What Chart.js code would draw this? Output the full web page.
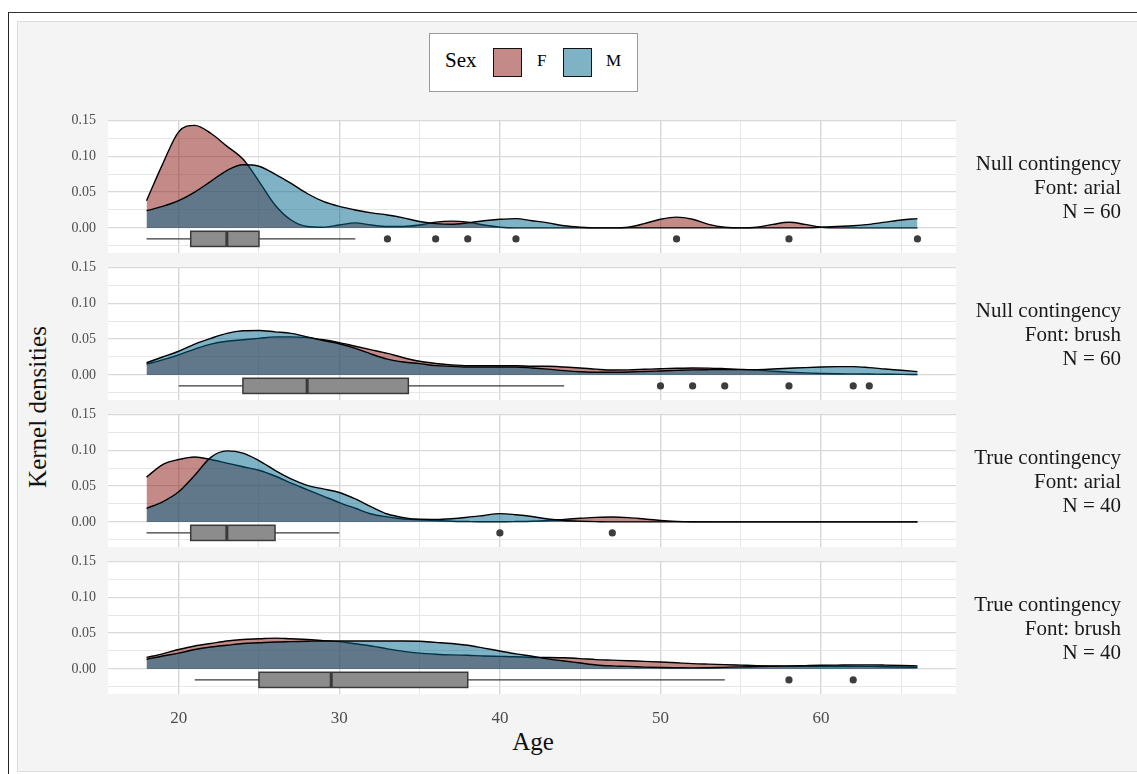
<!DOCTYPE html>
<html>
<head>
<meta charset="utf-8">
<script src="https://cdn.jsdelivr.net/npm/chart.js@4.4.0/dist/chart.umd.min.js"></script>
<style>
  body { margin: 0; background: #fff; width: 1137px; height: 774px; overflow: hidden; font-family: "Liberation Serif", "DejaVu Serif", serif; }
  #frame { position: absolute; left: 8px; top: 12px; width: 1200px; height: 800px; border-left: 1.5px solid #222; border-top: 1.5px solid #333; }
  #bg { position: absolute; left: 17px; top: 21px; width: 1200px; height: 749px; background: #f4f4f4; border: 1px solid #dcdcdc; }
  .panel { position: absolute; left: 0; }
  .strip { position: absolute; left: 860px; width: 261px; text-align: right; font-size: 21px; line-height: 24px; color: #1a1a1a; }
  #legend { position: absolute; left: 429px; top: 33px; width: 207px; height: 57px; background: #fff; border: 1px solid #9a9a9a; }
  #legend span { position: absolute; }
  .sw { width: 27px; height: 27px; border: 1.5px solid #111; top: 14px; }
  #ytitle { position: absolute; left: 38px; top: 407px; transform: translate(-50%, -50%) rotate(-90deg); font-size: 25px; white-space: nowrap; color: #111; }
  #xtitle { position: absolute; left: 533px; top: 742px; transform: translate(-50%, -50%); font-size: 25px; color: #111; }
</style>
</head>
<body>
<div id="frame"></div>
<div id="bg"></div>
<div id="legend">
  <span style="left:15px;top:14px;font-size:21px;">Sex</span>
  <span class="sw" style="left:63px;background:rgba(135,21,17,0.5)"></span>
  <span style="left:107px;top:17px;font-size:17px;">F</span>
  <span class="sw" style="left:133px;background:rgba(0,101,139,0.5)"></span>
  <span style="left:176px;top:17px;font-size:17px;">M</span>
</div>
<div id="ytitle">Kernel densities</div>
<div id="xtitle">Age</div>
<div id="charts"></div>

<script>
const ages = [18,19,20,21,22,23,24,25,26,27,28,29,30,31,32,33,34,35,36,37,38,39,40,41,42,
  43,44,45,46,47,48,49,50,51,52,53,54,55,56,57,58,59,60,61,62,63,64,65,66];

// density estimates, F and M, one pair per panel
const nullArialF = [0.038,0.089,0.134,0.143,0.132,0.114,0.096,0.065,0.032,0.011,
  0.002,0.001,0.004,0.007,0.004,0.002,0.002,0.004,0.008,0.0095,
  0.008,0.004,0.001,0,0,0,0,0,0,0,
  0.001,0.006,0.012,0.015,0.012,0.005,0.001,0,0.001,0.005,
  0.0078,0.005,0.001,0,0,0,0,0,0];
const nullArialM = [0.024,0.030,0.038,0.050,0.065,0.080,0.088,0.086,0.075,0.062,
  0.048,0.037,0.030,0.025,0.021,0.018,0.014,0.009,0.006,0.005,
  0.007,0.010,0.012,0.013,0.010,0.007,0.003,0.001,0,0,
  0,0,0,0,0,0,0,0,0,0,
  0,0,0.001,0.002,0.003,0.005,0.008,0.011,0.013];

const nullBrushF = [0.015,0.021,0.028,0.036,0.043,0.047,0.049,0.051,0.053,0.053,
  0.052,0.049,0.045,0.040,0.035,0.030,0.024,0.019,0.016,0.014,
  0.013,0.013,0.013,0.013,0.012,0.012,0.011,0.0097,0.008,0.0068,
  0.007,0.0078,0.0086,0.0093,0.0097,0.0095,0.0087,0.0077,0.0066,0.0052,
  0.0038,0.0028,0.002,0.0016,0.0014,0.0012,0.001,0.0007,0.0005];
const nullBrushM = [0.017,0.025,0.033,0.043,0.051,0.058,0.0615,0.062,0.060,0.058,
  0.053,0.048,0.0435,0.037,0.029,0.022,0.018,0.0157,0.013,0.012,
  0.011,0.011,0.011,0.011,0.0097,0.008,0.006,0.0045,0.0037,0.0037,
  0.004,0.0047,0.0055,0.0063,0.007,0.0073,0.0074,0.0074,0.0074,0.0082,
  0.0092,0.0102,0.011,0.0115,0.0116,0.0102,0.0082,0.0065,0.0046];

const trueArialF = [0.0625,0.080,0.087,0.0905,0.087,0.082,0.077,0.072,0.064,0.054,
  0.045,0.036,0.027,0.019,0.011,0.007,0.004,0.003,0.002,0.001,
  0.0005,0.0002,0.0002,0.0005,0.001,0.002,0.0035,0.005,0.0063,0.0069,
  0.006,0.004,0.002,0.0008,0.0002,0,0,0,0,0,
  0,0,0,0,0,0,0,0,0];
const trueArialM = [0.019,0.028,0.042,0.065,0.090,0.099,0.096,0.0856,0.072,0.060,
  0.051,0.046,0.041,0.032,0.021,0.011,0.006,0.0037,0.0035,0.0045,
  0.0065,0.009,0.0116,0.010,0.0075,0.004,0.002,0.001,0.0004,0,
  0,0,0,0,0,0,0,0,0,0,
  0,0,0,0,0,0,0,0,0];

const trueBrushF = [0.016,0.021,0.027,0.032,0.0355,0.039,0.041,0.042,0.043,0.042,
  0.041,0.0395,0.038,0.035,0.032,0.028,0.0245,0.022,0.0205,0.0195,
  0.019,0.018,0.0175,0.017,0.016,0.016,0.0155,0.0144,0.013,0.0122,
  0.0114,0.0105,0.0097,0.0085,0.0073,0.0066,0.006,0.0053,0.0046,0.0041,
  0.0037,0.0037,0.0037,0.0037,0.0037,0.0035,0.003,0.0026,0.0023];
const trueBrushM = [0.0134,0.018,0.022,0.027,0.0305,0.033,0.0355,0.0365,0.0375,0.038,
  0.0385,0.039,0.039,0.039,0.039,0.039,0.039,0.0385,0.037,0.0355,
  0.033,0.029,0.025,0.021,0.0176,0.014,0.011,0.0083,0.0055,0.0042,
  0.0035,0.0025,0.0019,0.0016,0.0014,0.0016,0.0022,0.0028,0.0032,0.0037,
  0.0042,0.0046,0.005,0.0053,0.0056,0.0056,0.0053,0.0048,0.0042];

// boxplot stats: [lower whisker, q1, median, q3, upper whisker]
const nullArialBox = [18, 20.75, 23, 25, 31];
const nullBrushBox = [20, 24, 28, 34.3, 44];
const trueArialBox = [18, 20.75, 23, 26, 30];
const trueBrushBox = [21, 25, 29.5, 38, 54];

const nullArialOut = [33, 36, 38, 41, 51, 58, 66];
const nullBrushOut = [50, 52, 54, 58, 62, 63];
const trueArialOut = [40, 47];
const trueBrushOut = [58, 62];

const stripTitles = ['Null contingency', 'Null contingency', 'True contingency', 'True contingency'];
const stripFonts = ['arial', 'brush', 'arial', 'brush'];
const stripN = [60, 60, 40, 40];

const yTickLabels = ['0.00', '0.05', '0.10', '0.15'];
const xTickValues = [20, 30, 40, 50, 60];

const FONT = '"Liberation Serif", "DejaVu Serif", serif';
const F_FILL = 'rgba(135,21,17,0.5)';
const M_FILL = 'rgba(0,101,139,0.5)';

const panels = [
  { f: nullArialF, m: nullArialM, box: nullArialBox, out: nullArialOut },
  { f: nullBrushF, m: nullBrushM, box: nullBrushBox, out: nullBrushOut },
  { f: trueArialF, m: trueArialM, box: trueArialBox, out: trueArialOut },
  { f: trueBrushF, m: trueBrushM, box: trueBrushBox, out: trueBrushOut },
];

const panelTops = [120, 267, 414, 561];
const panelH = 133.5;
const padTop = 12;
const boxCenter = -0.0153;
const boxHalf = 0.0106;

const isMajorY = (v) => v >= -1e-9 && Math.abs(v / 0.05 - Math.round(v / 0.05)) < 1e-6;

const boxPlugin = {
  id: 'boxStats',
  afterDatasetsDraw(chart, args, opts) {
    const { ctx, scales: { x, y } } = chart;
    const [lo, q1, med, q3, hi] = opts.stats;
    const yc = y.getPixelForValue(boxCenter);
    const yt = y.getPixelForValue(boxCenter + boxHalf);
    const yb = y.getPixelForValue(boxCenter - boxHalf);
    ctx.save();
    ctx.strokeStyle = '#3a3a3a';
    ctx.lineWidth = 1.3;
    ctx.beginPath();
    ctx.moveTo(x.getPixelForValue(lo), yc);
    ctx.lineTo(x.getPixelForValue(q1), yc);
    ctx.moveTo(x.getPixelForValue(q3), yc);
    ctx.lineTo(x.getPixelForValue(hi), yc);
    ctx.stroke();
    const x1 = x.getPixelForValue(q1), x3 = x.getPixelForValue(q3);
    ctx.fillStyle = '#8c8c8c';
    ctx.fillRect(x1, yt, x3 - x1, yb - yt);
    ctx.lineWidth = 1.5;
    ctx.strokeRect(x1, yt, x3 - x1, yb - yt);
    ctx.lineWidth = 3;
    ctx.beginPath();
    ctx.moveTo(x.getPixelForValue(med), yt);
    ctx.lineTo(x.getPixelForValue(med), yb);
    ctx.stroke();
    ctx.restore();
  }
};

const holder = document.getElementById('charts');

panels.forEach((p, i) => {
  const bottom = i === panels.length - 1;
  const xAxisH = bottom ? 40 : 0;
  const h = panelH + padTop * 2 + xAxisH;

  const div = document.createElement('div');
  div.className = 'panel';
  div.style.top = (panelTops[i] - padTop) + 'px';
  holder.appendChild(div);
  const canvas = document.createElement('canvas');
  canvas.width = 960;
  canvas.height = h;
  div.appendChild(canvas);

  const strip = document.createElement('div');
  strip.className = 'strip';
  strip.style.top = (panelTops[i] + panelH / 2 - 36) + 'px';
  strip.innerHTML = stripTitles[i] + '<br>Font: ' + stripFonts[i] + '<br>N = ' + stripN[i];
  document.body.appendChild(strip);

  const densityLine = (vals, fill, order) => ({
    type: 'line',
    data: ages.map((a, k) => ({ x: a, y: vals[k] })),
    borderColor: '#000',
    borderWidth: 1.4,
    backgroundColor: fill,
    fill: 'origin',
    pointRadius: 0,
    order: order,
    cubicInterpolationMode: 'monotone',
  });

  new Chart(canvas, {
    type: 'scatter',
    data: {
      datasets: [
        densityLine(p.f, F_FILL, 3),
        densityLine(p.m, M_FILL, 2),
        {
          type: 'scatter',
          data: p.out.map(a => ({ x: a, y: boxCenter })),
          pointRadius: 3.6,
          backgroundColor: '#3d3d3d',
          borderWidth: 0,
          order: 1,
        },
      ],
    },
    options: {
      responsive: false,
      animation: false,
      layout: { padding: { top: padTop, bottom: padTop, left: 0, right: 2 } },
      plugins: {
        legend: { display: false },
        tooltip: { enabled: false },
        boxStats: { stats: p.box },
      },
      scales: {
        x: {
          type: 'linear',
          min: 15.6,
          max: 68.4,
          afterFit: (s) => { s.height = xAxisH; s.paddingLeft = 0; s.paddingRight = 0; },
          border: { display: false },
          grid: {
            drawTicks: false,
            color: (c) => (c.tick && c.tick.value % 10 === 0 ? '#d6d6d6' : '#e4e4e4'),
            lineWidth: (c) => (c.tick && c.tick.value % 10 === 0 ? 1.4 : 0.9),
          },
          ticks: {
            display: bottom,
            stepSize: 5,
            includeBounds: false,
            autoSkip: false,
            maxRotation: 0,
            padding: 14,
            color: '#4d4d4d',
            font: { family: FONT, size: 17 },
            callback: (v) => (xTickValues.includes(v) ? String(v) : ''),
          },
        },
        y: {
          min: -0.035,
          max: 0.1505,
          afterFit: (s) => { s.width = 108; s.paddingTop = 0; s.paddingBottom = 0; },
          border: { display: false },
          grid: {
            drawTicks: false,
            color: (c) => (c.tick && isMajorY(c.tick.value) ? '#d9d9d9' : '#e4e4e4'),
            lineWidth: (c) => (c.tick && isMajorY(c.tick.value) ? 1.3 : 0.9),
          },
          ticks: {
            stepSize: 0.025,
            includeBounds: false,
            autoSkip: false,
            padding: 12,
            color: '#4d4d4d',
            font: { family: FONT, size: 14 },
            callback: (v) => (isMajorY(v) ? yTickLabels[Math.round(v / 0.05)] : ''),
          },
        },
      },
    },
    plugins: [
      {
        id: 'panelBg',
        beforeDraw(chart) {
          const a = chart.chartArea;
          chart.ctx.save();
          chart.ctx.fillStyle = '#fff';
          chart.ctx.fillRect(a.left, a.top, a.right - a.left, a.bottom - a.top);
          chart.ctx.restore();
        },
      },
      boxPlugin,
    ],
  });
});
</script>
</body>
</html>
